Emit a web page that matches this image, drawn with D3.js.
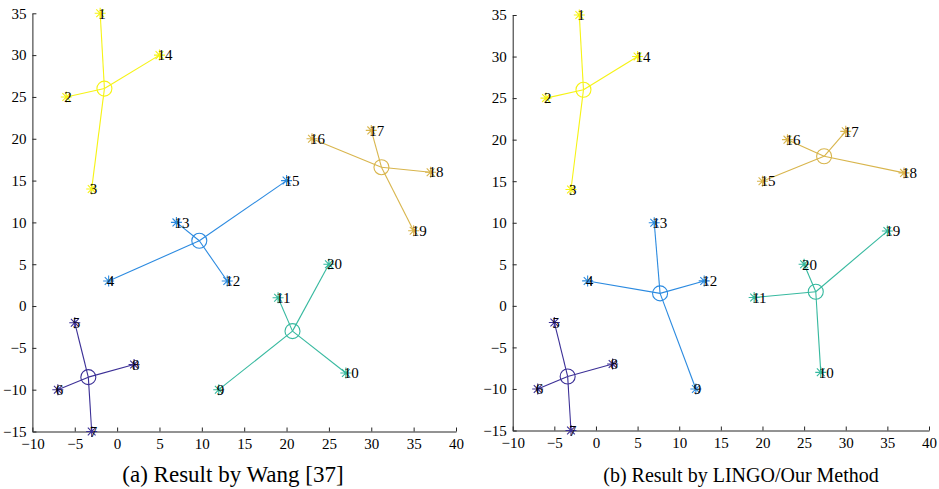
<!DOCTYPE html>
<html>
<head>
<meta charset="utf-8">
<script src="https://cdn.jsdelivr.net/npm/d3@7"></script>
<style>
  body { margin: 0; background: #fff; }
  svg text { font-family: "Liberation Serif", "Times New Roman", serif; }
</style>
</head>
<body>
<div id="chart"></div>
<script>
// customer points (id, x, y)
const pointIds = [1, 2, 3, 4, 5, 6, 7, 8, 9, 10, 11, 12, 13, 14, 15, 16, 17, 18, 19, 20];
const pointX = [-2, -6, -3, -1, -5, -7, -3, 2, 12, 27, 19, 13, 7, 5, 20, 23, 30, 37, 35, 25];
const pointY = [35, 25, 14, 3, -2, -10, -15, -7, -10, -8, 1, 3, 10, 30, 15, 20, 21, 16, 9, 5];

const clusterColors = ['#f6f314', '#2b8ae0', '#3b2f96', '#36b99f', '#d8b54c'];

// (a) Wang [37]
const groupsA = [[1, 2, 3, 14], [4, 12, 13, 15], [5, 6, 7, 8], [9, 10, 11, 20], [16, 17, 18, 19]];
const centerXA = [-1.5, 9.7, -3.4, 20.7, 31.2];
const centerYA = [26.0, 7.8, -8.5, -3.0, 16.6];

// (b) LINGO / our method
const groupsB = [[1, 2, 3, 14], [4, 9, 12, 13], [5, 6, 7, 8], [10, 11, 19, 20], [15, 16, 17, 18]];
const centerXB = [-1.5, 7.7, -3.4, 26.4, 27.4];
const centerYB = [26.0, 1.5, -8.5, 1.7, 18.0];

const xTicks = [-10, -5, 0, 5, 10, 15, 20, 25, 30, 35, 40];
const yTicks = [-15, -10, -5, 0, 5, 10, 15, 20, 25, 30, 35];
const captions = ['(a) Result by Wang [37]', '(b) Result by LINGO/Our Method'];

const width = 939, height = 489;

const svg = d3.select('#chart').append('svg')
  .attr('width', width)
  .attr('height', height);

const panels = [
  { groups: groupsA, cx: centerXA, cy: centerYA, xr: [32.4, 456], yr: [431.5, 13.3], caption: captions[0], capX: 233, capSize: 23 },
  { groups: groupsB, cx: centerXB, cy: centerYB, xr: [512.7, 929], yr: [430.5, 15], caption: captions[1], capX: 741, capSize: 20 }
];

const star = d3.symbol().type({
  draw(ctx, size) {
    const r = Math.sqrt(size) / 2;
    for (let i = 0; i < 4; i++) {
      const a = i * Math.PI / 4;
      ctx.moveTo(-r * Math.cos(a), -r * Math.sin(a));
      ctx.lineTo(r * Math.cos(a), r * Math.sin(a));
    }
  }
}).size(121);

panels.forEach(p => {
  const x = d3.scaleLinear().domain([-10, 40]).range(p.xr);
  const y = d3.scaleLinear().domain([-15, 35]).range(p.yr);
  const g = svg.append('g');

  // axes
  const xAxis = g.append('g')
    .attr('transform', 'translate(0,' + p.yr[0] + ')')
    .call(d3.axisBottom(x).tickValues(xTicks).tickSizeInner(-4).tickSizeOuter(0).tickPadding(7));
  const yAxis = g.append('g')
    .attr('transform', 'translate(' + p.xr[0] + ',0)')
    .call(d3.axisLeft(y).tickValues(yTicks).tickSizeInner(-4).tickSizeOuter(0).tickPadding(6));
  [xAxis, yAxis].forEach(a => {
    a.attr('font-family', null);
    a.selectAll('path, line').attr('stroke', '#262626');
    a.selectAll('text').attr('font-size', 15).attr('fill', '#000');
  });

  // clusters
  p.groups.forEach((members, ci) => {
    const color = clusterColors[ci];
    const cxp = x(p.cx[ci]), cyp = y(p.cy[ci]);
    members.forEach(id => {
      const i = pointIds.indexOf(id);
      g.append('line')
        .attr('x1', cxp).attr('y1', cyp)
        .attr('x2', x(pointX[i])).attr('y2', y(pointY[i]))
        .attr('stroke', color).attr('stroke-width', 1.1);
    });
    g.append('circle')
      .attr('cx', cxp).attr('cy', cyp).attr('r', 7.5)
      .attr('fill', 'none').attr('stroke', color).attr('stroke-width', 1.1);
    members.forEach(id => {
      const i = pointIds.indexOf(id);
      g.append('path')
        .attr('d', star)
        .attr('transform', 'translate(' + x(pointX[i]) + ',' + y(pointY[i]) + ')')
        .attr('fill', 'none').attr('stroke', color).attr('stroke-width', 1.1);
    });
  });

  // point labels
  g.append('g').selectAll('text')
    .data(pointIds)
    .enter().append('text')
      .attr('x', (d, i) => x(pointX[i]) - 2)
      .attr('y', (d, i) => y(pointY[i]))
      .attr('dy', '0.35em')
      .attr('font-size', 15)
      .attr('fill', '#000')
      .text(d => d);

  // caption
  svg.append('text')
    .attr('x', p.capX)
    .attr('y', 482)
    .attr('text-anchor', 'middle')
    .attr('font-size', p.capSize)
    .attr('fill', '#000')
    .text(p.caption);
});
</script>
</body>
</html>
